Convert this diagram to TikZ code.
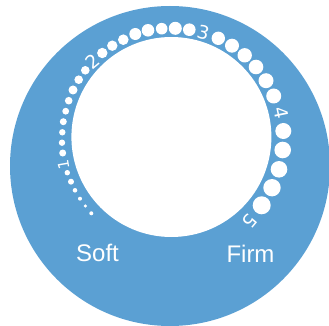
\documentclass[tikz,border=0pt]{standalone}
\usepackage{fontspec}
\setmainfont{Liberation Sans}
\newfontfamily\digitfont{DejaVu Sans}
\definecolor{ringblue}{HTML}{5BA0D3}
\tikzset{
  dot/.style={fill=white,draw=none},
  scalelabel/.style={text=white,inner sep=0pt,font=\digitfont\fontsize{18.5}{18.5}\selectfont},
  endlabel/.style={text=white,inner sep=0pt,font=\fontsize{24}{24}\selectfont}
}
\begin{document}
\begin{tikzpicture}[x=1pt,y=-1pt]
\useasboundingbox (0,0) rectangle (329,326);
\fill[white] (0,0) rectangle (329,326);
\clip (0,0) rectangle (329,326);
\fill[ringblue] (170,166) circle[radius=160];
\fill[white] (171.4,137) circle[radius=100];
\foreach \x/\y/\r in {
 91.3/213.3/2, 85.3/206/1.7, 80/198.7/2, 75/190.3/2.3, 71/181.7/3, 67.3/172.7/2.7,
 62.7/153/3.5, 62/142.7/3.2, 62.3/132.3/3.2, 63.3/121.7/3.5, 65.7/111.2/3.4,
 68.7/100.7/3.8, 73/90/4.5, 78.7/79.7/4.3, 85.3/70.3/4.3,
 102.3/53/5.2, 112.3/45.7/5.2, 123.3/39.7/5.3, 135.3/34/6, 148/30.3/6.3, 161.7/28.7/5.8,
 175.3/28.3/6.5, 189.3/29.7/6.3,
 218.3/38.3/6.7, 232/45.7/7, 244.7/55.3/7.2, 256/67/7.3, 266/80.7/7.5, 273.7/96/7.5,
 283.3/131/8, 282.7/150/8.3, 279/169.3/8.3, 272/187.7/8.7, 261.7/205.3/9}
  {\fill[dot] (\x,\y) circle[radius=\r];}
\node[scalelabel,rotate=100,font=\digitfont\fontsize{15}{15}\selectfont] (n1) at (63.3,164.3) {1};
\node[scalelabel,rotate=40] (n2) at (92.7,61.7) {2};
\node[scalelabel,rotate=-15] (n3) at (203.3,32.7) {3};
\node[scalelabel,rotate=-78] (n4) at (281.7,112.7) {4};
\node[scalelabel,rotate=-130] (n5) at (249.3,221.7) {5};
\node[endlabel] (soft) at (97.5,252.5) {Soft};
\node[endlabel] (firm) at (250.5,253.5) {Firm};
\end{tikzpicture}
\end{document}
